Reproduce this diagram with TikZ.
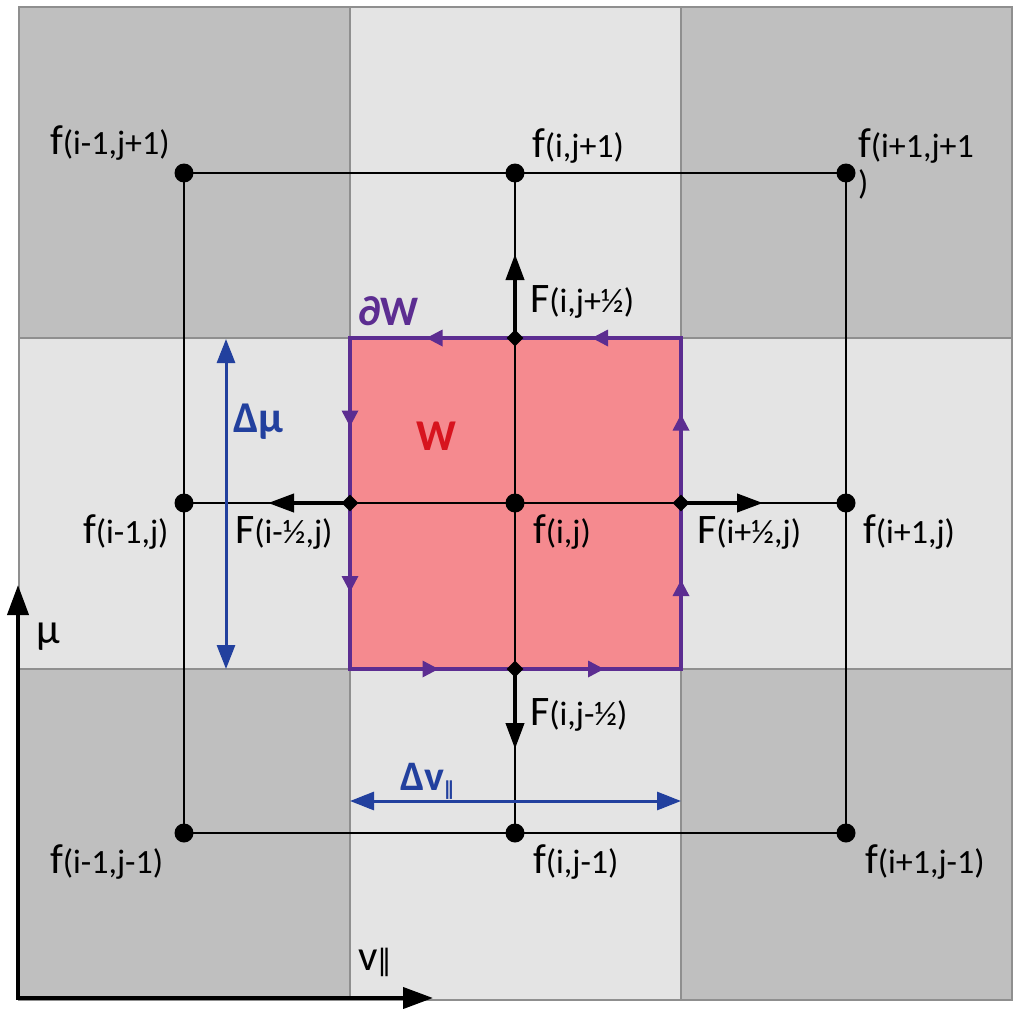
\documentclass[tikz,border=0pt]{standalone}
\usepackage{fontspec}
\setmainfont{Carlito}
\newfontfamily\dvs{DejaVu Sans}
\usetikzlibrary{arrows.meta,shapes.geometric,decorations.markings}
\definecolor{darkg}{HTML}{BFBFBF}
\definecolor{lightg}{HTML}{E4E4E4}
\definecolor{cellb}{HTML}{8F8F8F}
\definecolor{pinkc}{HTML}{F58A8F}
\definecolor{purp}{HTML}{5C2D91}
\definecolor{blu}{HTML}{22409E}
\definecolor{redw}{HTML}{D7141E}
\newcommand{\Fm}{\fontsize{42}{50}\selectfont}
\newcommand{\Sm}{\fontsize{34}{40}\selectfont}
\newcommand{\lab}[2]{{\Fm #1}{\Sm #2}}
\tikzset{
  cellbox/.style={draw=cellb,line width=1.2pt},
  gridline/.style={line width=2.2pt,black},
  dot/.style={circle,fill=black,inner sep=0pt,minimum size=19pt},
  dia/.style={diamond,fill=black,inner sep=0pt,minimum width=17pt,minimum height=17pt},
  flux/.style={line width=4pt,black,-{Triangle[length=26pt,width=18pt]}},
  dimline/.style={line width=3pt,blu,{Triangle[length=24pt,width=18pt]}-{Triangle[length=24pt,width=18pt]}},
  axisline/.style={line width=4pt,black,line join=miter,{Triangle[length=30pt,width=21pt]}-{Triangle[length=30pt,width=21pt]}},
  lbl/.style={anchor=base west,inner sep=0pt,outer sep=0pt},
  bordseg/.style={purp,line width=4pt,postaction={decorate},
    decoration={markings,mark=at position 0.5 with {\fill[purp] (6,0) -- (-10,8.5) -- (-10,-8.5) -- cycle;}}}
}
\begin{document}
\begin{tikzpicture}[x=1pt,y=-1pt]
\useasboundingbox (0,0) rectangle (1013,1009);
% cells
\fill[lightg] (19,7) rectangle (1012,1000);
\fill[darkg] (19,7) rectangle (350,338);
\fill[darkg] (681,7) rectangle (1012,338);
\fill[darkg] (19,669) rectangle (350,1000);
\fill[darkg] (681,669) rectangle (1012,1000);
\fill[pinkc] (350,338) rectangle (681,669);
\foreach \x in {19,350,681} \foreach \y in {7,338,669}
  \draw[cellbox] (\x,\y) rectangle +(331,331);
% grid points
\coordinate (p00) at (184,173); \coordinate (p10) at (515,173); \coordinate (p20) at (846,173);
\coordinate (p01) at (184,503); \coordinate (p11) at (515,503); \coordinate (p21) at (846,503);
\coordinate (p02) at (184,833); \coordinate (p12) at (515,833); \coordinate (p22) at (846,833);
\draw[gridline] (p00) -- (p10) -- (p20);
\draw[gridline] (p01) -- (p11) -- (p21);
\draw[gridline] (p02) -- (p12) -- (p22);
\draw[gridline] (p00) -- (p01) -- (p02);
\draw[gridline] (p10) -- (p11) -- (p12);
\draw[gridline] (p20) -- (p21) -- (p22);
% border of W
\coordinate (c1) at (681,338); \coordinate (mt) at (515,338); \coordinate (c2) at (350,338);
\coordinate (ml) at (350,503); \coordinate (c3) at (350,669); \coordinate (mb) at (515,669);
\coordinate (c4) at (681,669); \coordinate (mr) at (681,503);
\draw[purp,line width=4pt,line join=miter] (c2) rectangle (c4);
\draw[bordseg] (c1) -- (mt);
\draw[bordseg] (mt) -- (c2);
\draw[bordseg] (c2) -- (ml);
\draw[bordseg] (ml) -- (c3);
\draw[bordseg] (c3) -- (mb);
\draw[bordseg] (mb) -- (c4);
\draw[bordseg] (c4) -- (mr);
\draw[bordseg] (mr) -- (c1);
% flux arrows
\coordinate (tu) at (515,254);
\coordinate (tl) at (268,503);
\coordinate (tr) at (763,503);
\coordinate (td) at (515,749);
\draw[flux] (mt) -- (tu);
\draw[flux] (ml) -- (tl);
\draw[flux] (mr) -- (tr);
\draw[flux] (mb) -- (td);
% points
\foreach \p in {p00,p10,p20,p01,p11,p21,p02,p12,p22} \node[dot] (d\p) at (\p) {};
\foreach \p in {mt,ml,mr,mb} \node[dia] (q\p) at (\p) {};
% dimension arrows
\coordinate (dm1) at (226,339); \coordinate (dm2) at (226,669);
\draw[dimline] (dm1) -- (dm2);
\coordinate (dv1) at (350,801); \coordinate (dv2) at (681,801);
\draw[dimline] (dv1) -- (dv2);
% axes
\coordinate (ay) at (18,585); \coordinate (ao) at (18,998); \coordinate (ax) at (433,998);
\draw[axisline] (ay) -- (ao) -- (ax);
% labels
\node[lbl] (l00) at (50,154) {\lab{f}{(i-1,j+1)}};
\node[lbl] (l10) at (532,157) {\lab{f}{(i,j+1)}};
\node[lbl] (l20) at (858,157) {\makebox[0pt][l]{\raisebox{-37pt}{\Sm )}}\lab{f}{(i+1,j+1}};
\node[lbl] (l01) at (83,543) {\lab{f}{(i-1,j)}};
\node[lbl] (l11) at (533,543) {\lab{f}{(i,j)}};
\node[lbl] (l21) at (863,543) {\lab{f}{(i+1,j)}};
\node[lbl] (l02) at (50,873) {\lab{f}{(i-1,j-1)}};
\node[lbl] (l12) at (533,873) {\lab{f}{(i,j-1)}};
\node[lbl] (l22) at (865,873) {\lab{f}{(i+1,j-1)}};
\node[lbl] (fu) at (530,312) {\lab{F}{(i,j+½)}};
\node[lbl] (fl) at (235,543) {\lab{F}{(i-½,j)}};
\node[lbl] (fr) at (697,543) {\lab{F}{(i+½,j)}};
\node[lbl] (fd) at (530,725) {\lab{F}{(i,j-½)}};
\node[lbl,text=blu,font=\fontsize{44}{52}\selectfont\bfseries] (ldm) at (233,432) {Δμ};
\node[lbl,text=blu,font=\fontsize{42}{50}\selectfont\bfseries] (ldv) at (400,790) {Δv\raisebox{-5pt}{\dvs\fontsize{19}{22}\selectfont ∥}};
\node[lbl,text=redw,font=\fontsize{44}{52}\selectfont\bfseries] (lw) at (416,450) {W};
\node[lbl,text=purp,font=\fontsize{42}{50}\selectfont\bfseries] (ldw) at (358,325) {∂W};
\node[lbl,font=\fontsize{43}{50}\selectfont] (lmu) at (36,643) {μ};
\node[lbl,font=\fontsize{43}{50}\selectfont] (lv) at (358,970) {v\raisebox{0pt}{\dvs\fontsize{29}{34}\selectfont ∥}};
\end{tikzpicture}
\end{document}
